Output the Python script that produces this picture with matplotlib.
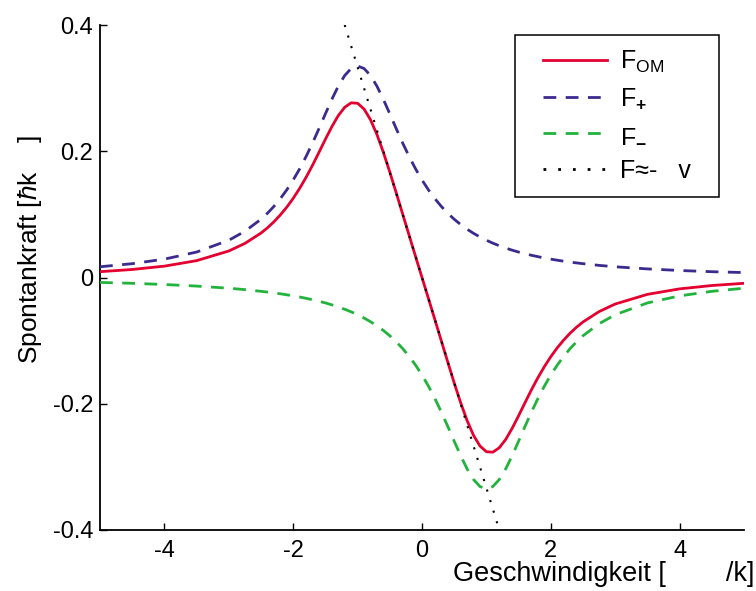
import matplotlib
matplotlib.use("Agg")
import matplotlib.pyplot as plt
from matplotlib.legend_handler import HandlerLine2D

# Velocity grid in units of Gamma/k
velocity = [
    -5.0, -4.5, -4.0, -3.5, -3.0, -2.75,
    -2.5, -2.4, -2.3, -2.2, -2.1, -2.0, -1.9, -1.8, -1.7, -1.6,
    -1.5, -1.4, -1.3, -1.2, -1.1, -1.0, -0.9, -0.8, -0.7, -0.6,
    -0.5, -0.4, -0.3, -0.2, -0.1, 0.0, 0.1, 0.2, 0.3, 0.4,
    0.5, 0.6, 0.7, 0.8, 0.9, 1.0, 1.1, 1.2, 1.3, 1.4,
    1.5, 1.6, 1.7, 1.8, 1.9, 2.0, 2.1, 2.2, 2.3, 2.4, 2.5,
    2.75, 3.0, 3.5, 4.0, 4.5, 5.0,
]

# Force from the beam travelling in +z
f_plus = [
    0.0170, 0.0219, 0.0291, 0.0403, 0.0590, 0.0732,
    0.0923, 0.1018, 0.1126, 0.1249, 0.1388, 0.1545, 0.1721, 0.1917, 0.2130, 0.2358,
    0.2593, 0.2822, 0.3031, 0.3200, 0.3311, 0.3350, 0.3311, 0.3200, 0.3031, 0.2822,
    0.2593, 0.2358, 0.2130, 0.1917, 0.1721, 0.1545, 0.1388, 0.1249, 0.1126, 0.1018,
    0.0923, 0.0839, 0.0765, 0.0700, 0.0642, 0.0590, 0.0544, 0.0503, 0.0466, 0.0433,
    0.0403, 0.0376, 0.0352, 0.0330, 0.0309, 0.0291, 0.0274, 0.0258, 0.0244, 0.0231, 0.0219,
    0.0192, 0.0170, 0.0136, 0.0111, 0.0092, 0.0078,
]

# Force from the counter-propagating beam
f_minus = [
    -0.0078, -0.0092, -0.0111, -0.0136, -0.0170, -0.0192,
    -0.0219, -0.0231, -0.0244, -0.0258, -0.0274, -0.0291, -0.0309, -0.0330, -0.0352, -0.0376,
    -0.0403, -0.0433, -0.0466, -0.0503, -0.0544, -0.0590, -0.0642, -0.0700, -0.0765, -0.0839,
    -0.0923, -0.1018, -0.1126, -0.1249, -0.1388, -0.1545, -0.1721, -0.1917, -0.2130, -0.2358,
    -0.2593, -0.2822, -0.3031, -0.3200, -0.3311, -0.3350, -0.3311, -0.3200, -0.3031, -0.2822,
    -0.2593, -0.2358, -0.2130, -0.1917, -0.1721, -0.1545, -0.1388, -0.1249, -0.1126, -0.1018, -0.0923,
    -0.0732, -0.0590, -0.0403, -0.0291, -0.0219, -0.0170,
]

# Total optical molasses force
f_om = [
    0.0092, 0.0127, 0.0180, 0.0267, 0.0420, 0.0540,
    0.0704, 0.0787, 0.0882, 0.0991, 0.1114, 0.1254, 0.1412, 0.1587, 0.1778, 0.1982,
    0.2190, 0.2389, 0.2565, 0.2697, 0.2767, 0.2760, 0.2669, 0.2500, 0.2266, 0.1983,
    0.1670, 0.1340, 0.1004, 0.0668, 0.0333, 0.0, -0.0333, -0.0668, -0.1004, -0.1340,
    -0.1670, -0.1983, -0.2266, -0.2500, -0.2669, -0.2760, -0.2767, -0.2697, -0.2565, -0.2389,
    -0.2190, -0.1982, -0.1778, -0.1587, -0.1412, -0.1254, -0.1114, -0.0991, -0.0882, -0.0787, -0.0704,
    -0.0540, -0.0420, -0.0267, -0.0180, -0.0127, -0.0092,
]

# Linear damping approximation near v = 0
v_linear = [-1.2, 1.2]
f_linear = [0.4, -0.4]

x_ticks = [-4, -2, 0, 2, 4]
x_tick_labels = ["-4", "-2", "0", "2", "4"]
y_ticks = [-0.4, -0.2, 0.0, 0.2, 0.4]
y_tick_labels = ["-0.4", "-0.2", "0", "0.2", "0.4"]

series_labels = [
    r"F$_{\mathregular{OM}}$",
    r"F$_{\mathbf{+}}$",
    r"F$_{\mathbf{-}}$",
    "F\u2248-   v  ",
]

plt.rcParams["font.family"] = ["Liberation Sans", "DejaVu Sans"]
plt.rcParams["mathtext.fontset"] = "custom"
plt.rcParams["mathtext.rm"] = "Liberation Sans"
plt.rcParams["mathtext.it"] = "Liberation Sans:italic"
plt.rcParams["mathtext.bf"] = "Liberation Sans:bold"
plt.rcParams["axes.unicode_minus"] = False

RED = "#E4002F"
BLUE = "#3C2A8E"
GREEN = "#22B33C"

fig = plt.figure(figsize=(7.56, 5.91), dpi=100)
ax = fig.add_axes([100 / 756, 61 / 591, 644 / 756, 505 / 591])

ax.plot(velocity, f_om, color=RED, lw=2.0, label=series_labels[0], zorder=4)
ax.plot(velocity, f_plus, color=BLUE, lw=2.0, linestyle=(0, (4.6, 3.4)),
        label=series_labels[1], zorder=3)
ax.plot(velocity, f_minus, color=GREEN, lw=2.0, linestyle=(0, (4.6, 3.4)),
        label=series_labels[2], zorder=3)
ax.plot(v_linear, f_linear, color="black", lw=1.5, linestyle=(0, (1, 4.3)),
        label=series_labels[3], zorder=5)

ax.set_xlim(-5, 5)
ax.set_ylim(-0.4, 0.4)
ax.set_xticks(x_ticks)
ax.set_xticklabels(x_tick_labels)
ax.set_yticks(y_ticks)
ax.set_yticklabels(y_tick_labels)

for side in ("top", "right"):
    ax.spines[side].set_visible(False)
for side in ("left", "bottom"):
    ax.spines[side].set_linewidth(1.3)
    ax.spines[side].set_color("black")

ax.tick_params(direction="in", length=5, width=1.0, labelsize=17, colors="black")
ax.tick_params(axis="x", pad=7)
ax.tick_params(axis="y", pad=5)

ax.set_xlabel("Geschwindigkeit [        /k]", fontsize=19.5, ha="right")
ax.xaxis.set_label_coords((754 - 100) / 644, -(561 - 530) / 505)
ax.set_ylabel("Spontankraft [$\u0127$k    ]", fontsize=19)
ax.yaxis.set_label_coords((44 - 100) / 644, (530 - 250) / 505)

fs = 18
leg = ax.legend(
    loc="upper right",
    bbox_to_anchor=((719 - 100) / 644, (530 - 35) / 505),
    borderaxespad=0,
    fontsize=fs,
    frameon=True,
    fancybox=False,
    framealpha=1,
    edgecolor="black",
    borderpad=0.55,
    handlelength=3.13,
    handletextpad=0.52,
    labelspacing=0.48,
    handler_map={plt.Line2D: HandlerLine2D(xpad=0.57)},
)
leg.get_frame().set_linewidth(1.1)
for line in leg.get_lines():
    line.set_linewidth(2.0)

fig.savefig("out.png", dpi=100)
